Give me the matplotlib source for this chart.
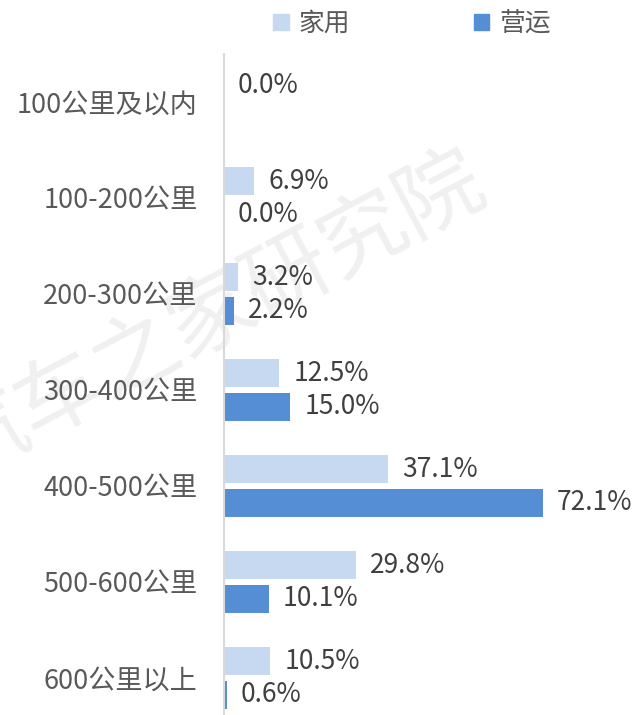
import matplotlib.pyplot as plt
import numpy as np
from matplotlib.patches import Patch

plt.rcParams['font.family'] = ['Noto Sans CJK SC', 'DejaVu Sans']

categories = ['100公里及以内', '100-200公里', '200-300公里', '300-400公里',
              '400-500公里', '500-600公里', '600公里以上']
home = [0.0, 6.9, 3.2, 12.5, 37.1, 29.8, 10.5]        # 家用
commercial = [None, 0.0, 2.2, 15.0, 72.1, 10.1, 0.6]  # 营运 (first has no label)

light = '#C6D9F0'
dark = '#558ED5'

fig = plt.figure(figsize=(6.36, 7.15), dpi=100)
ax = fig.add_axes([224 / 636, 0, 1 - 224 / 636, 1 - 54 / 715])

y = np.arange(len(categories))
h = 0.29
off = 0.177
comm_vals = [v if v is not None else 0 for v in commercial]

b1 = ax.barh(y - off, home, height=h, color=light, zorder=2)
b2 = ax.barh(y + off, comm_vals, height=h, color=dark, zorder=2)

ax.bar_label(b1, labels=[f'{v:.1f}%' for v in home], padding=10,
             fontsize=19, color='#404040')
ax.bar_label(b2, labels=['' if v is None else f'{v:.1f}%' for v in commercial],
             padding=10, fontsize=19, color='#404040')

ax.set_xlim(0, 412 / 4.42)
ax.set_ylim((715 - 102) / 96.0, -0.5)
ax.set_yticks(y)
ax.set_yticklabels(categories, fontsize=19.5, color='#595959')
ax.tick_params(axis='y', length=0, pad=19)
ax.set_xticks([])
for s in ['top', 'right', 'bottom']:
    ax.spines[s].set_visible(False)
ax.spines['left'].set_color('#D9D9D9')
ax.spines['left'].set_linewidth(1.5)
ax.patch.set_alpha(0)

# watermark, behind the bars
ax.text(213 / 636, 1 - 317 / 715, '汽车之家研究院', fontsize=62, color='#F0F0F0',
        rotation=28, ha='center', va='center', zorder=0,
        transform=fig.transFigure, clip_on=False)

handles = [Patch(color=light), Patch(color=dark)]
fig.legend(handles, ['家用', '营运'], loc='center', bbox_to_anchor=(412 / 636, 1 - 24 / 715),
           ncol=2, frameon=False, fontsize=18.5, labelcolor='#595959',
           handlelength=0.6, handleheight=0.6, handletextpad=0.4, columnspacing=4.8)

fig.savefig('out.png', dpi=100)
